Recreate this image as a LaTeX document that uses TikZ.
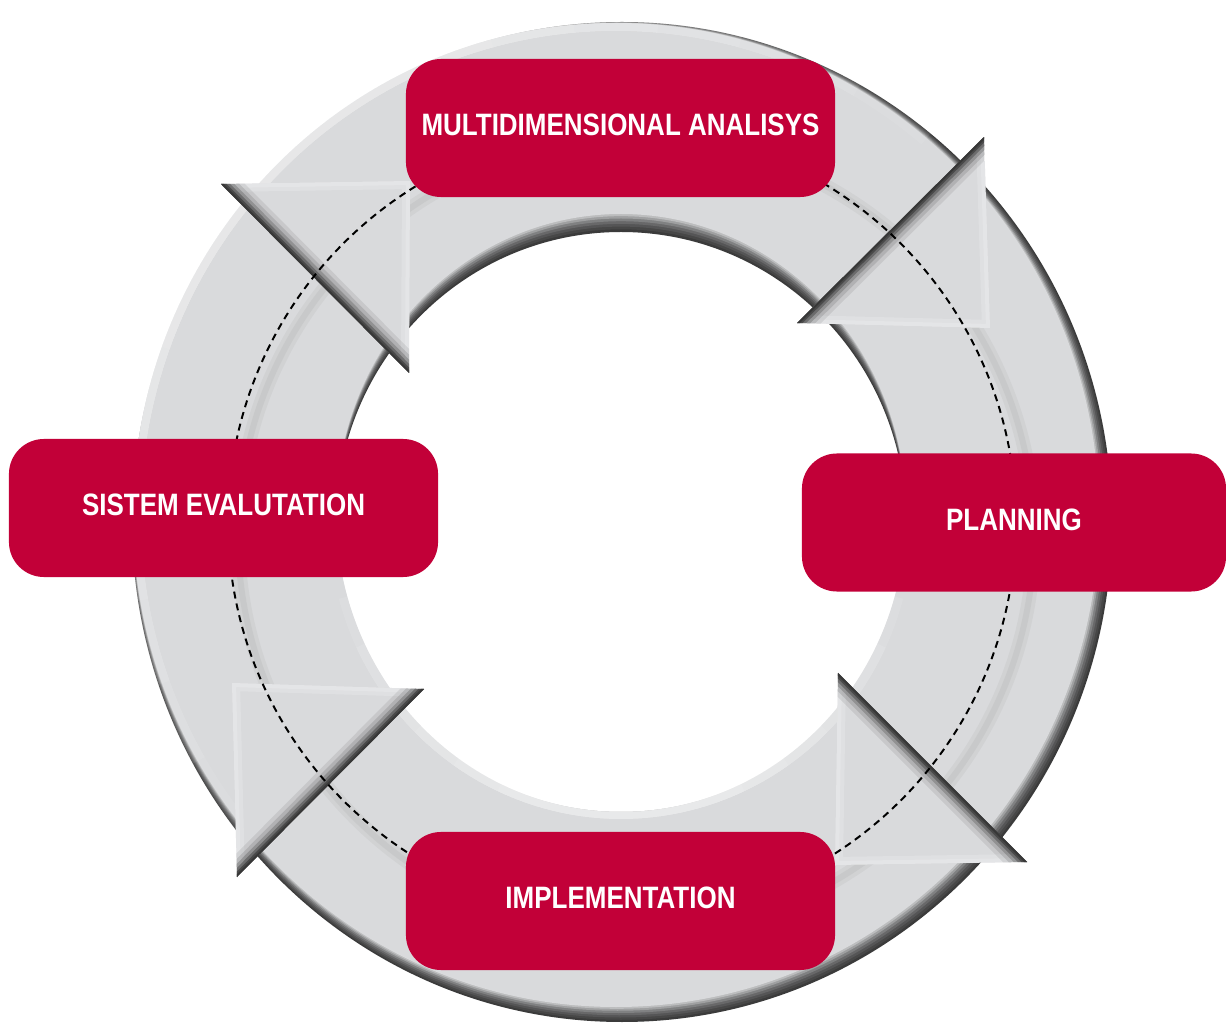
\documentclass[tikz,border=0pt]{standalone}
\usepackage{fontspec}
\setmainfont{Liberation Sans}[FakeStretch=0.84]
\definecolor{crim}{HTML}{C20038}
\definecolor{ringgray}{HTML}{D9DADC}
\definecolor{shadowdk}{HTML}{333333}
\newcommand\pxl{0.7113pt}
\newcommand\arrowtri[3]{%
  \begin{scope}
    \clip #1 -- #2 -- #3 -- cycle;
    \fill[ringgray] #1 -- #2 -- #3 -- cycle;
    \draw[white,opacity=0.18,line width={16*\pxl}] #2 -- #3 -- #1;
    \draw[white,opacity=0.18,line width={8*\pxl}] #2 -- #3 -- #1;
    \foreach \w/\o in {34/0.1,26/0.15,19/0.25,13/0.4,8/0.6,4/0.8}{%
      \draw[shadowdk,opacity=\o,line width={\w*\pxl}] #1 -- #2;}
  \end{scope}}
\tikzset{
  stagebox/.style={fill=crim,rounded corners={35*\pxl},minimum width={429*\pxl},
    minimum height={138*\pxl},inner sep=0pt,text=white,text height=15.8pt,text depth=4.5pt,
    font=\fontsize{22}{26}\selectfont\bfseries},
  ringdash/.style={black,line width=1.4pt,dash pattern=on 5pt off 3.6pt}
}
\begin{document}
\begin{tikzpicture}[x=0.025cm,y=-0.025cm]
\useasboundingbox[fill=white] (0,0) rectangle (1226,1023);
% ring: dark base
\fill[shadowdk,even odd rule] (622,522) ellipse[x radius=490,y radius=500]
  (621,522) ellipse[x radius=285,y radius=290];
% gray soft layers
\foreach \t/\o in {0/0.05,0.15/0.08,0.3/0.1,0.45/0.15,0.6/0.22,0.75/0.35,0.88/0.5,1/1}{%
  \fill[ringgray,opacity=\o,even odd rule]
    ({622-6*\t},{522-7*\t}) ellipse[x radius={490-7*\t},y radius={500-8*\t}]
    (621,{522-9*\t}) ellipse[x radius=285,y radius={290+9*\t}];
}
% faint middle stripe
\draw[black!40,opacity=0.12,line width={14*\pxl}] (636,536) circle[radius=398];
\draw[black!40,opacity=0.15,line width={6*\pxl}] (636,536) circle[radius=398];
% highlights
\foreach \a/\b in {140/310,150/300,160/292,170/285,180/275,190/265,200/255}{%
  \draw[white,opacity=0.08,line width={16*\pxl}]
    ({616+483*cos(\a)},{515+492*sin(\a)}) arc[start angle=\a,end angle=\b,x radius=483,y radius=492];}
\foreach \a/\b in {15/165,25/155,35/145,45/135,55/125,65/115}{%
  \draw[white,opacity=0.1,line width={14*\pxl}]
    ({621+285*cos(\a)},{522+290*sin(\a)}) arc[start angle=\a,end angle=\b,x radius=285,y radius=290];}
% arrow heads (clockwise flow)
\coordinate (t1a) at (221,184); \coordinate (t1b) at (409,373); \coordinate (t1c) at (410,181);
\coordinate (t2a) at (984,137); \coordinate (t2b) at (797,323); \coordinate (t2c) at (990,328);
\coordinate (t3a) at (838,673); \coordinate (t3b) at (1027,862); \coordinate (t3c) at (835,865);
\coordinate (t4a) at (424,689); \coordinate (t4b) at (237,877); \coordinate (t4c) at (232,683);
\arrowtri{(t1a)}{(t1b)}{(t1c)}
\arrowtri{(t2a)}{(t2b)}{(t2c)}
\arrowtri{(t3a)}{(t3b)}{(t3c)}
\arrowtri{(t4a)}{(t4b)}{(t4c)}
% dashed guide circle
\draw[ringdash] (622,522) circle[radius=394];
% stages
\node[stagebox] (analysis) at (620.5,128) {MULTIDIMENSIONAL ANALISYS};
\node[stagebox,minimum width={424*\pxl}] (planning) at (1014,522.5) {PLANNING};
\node[stagebox] (implementation) at (620.5,901) {IMPLEMENTATION};
\node[stagebox] (evaluation) at (223.5,508) {SISTEM EVALUTATION};
\end{tikzpicture}
\end{document}
